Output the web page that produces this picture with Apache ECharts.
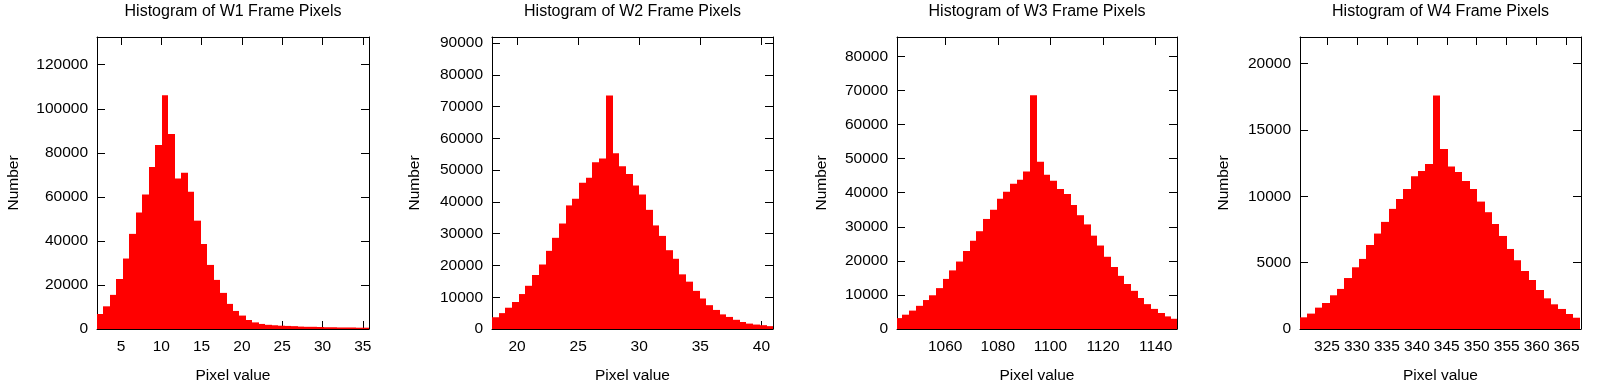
<!DOCTYPE html>
<html><head><meta charset="utf-8">
<script src="https://cdn.jsdelivr.net/npm/echarts@6/dist/echarts.min.js"></script>
<style>html,body{margin:0;padding:0;background:#fff}#c{width:1603px;height:391px}</style>
</head><body><div id="c"></div>
<script>
// ---- data ----
const titles = ['Histogram of W1 Frame Pixels','Histogram of W2 Frame Pixels','Histogram of W3 Frame Pixels','Histogram of W4 Frame Pixels'];
const xName = 'Pixel value';
const yName = 'Number';

const w1Counts = [6800,10300,15500,22700,32000,43200,52900,61100,73600,83600,106100,88600,68300,70900,62300,49200,38600,29100,22300,16400,11400,8200,6100,4100,3000,2300,1900,1700,1500,1400,1300,1100,1000,1000,900,800,800,700,700,700,600,600];
const w2Counts = [3700,5000,6700,8500,11000,13600,17000,20300,24600,28700,33200,38900,41000,46000,47600,52500,53700,73500,55300,51200,48800,45200,42300,37500,32600,29300,24800,22100,17200,14900,12000,9600,7500,6000,4600,3800,2900,2200,1700,1400,1200,900];
const w3Counts = [3200,4200,5400,6800,8500,9900,12000,14700,17200,19800,22900,25900,28700,32300,35000,38200,40300,42600,43800,46200,68600,49100,45300,43500,41100,39600,36400,33400,30700,27400,24500,21200,18200,15600,13200,11200,9100,7300,5900,4700,3700,3000];
const w4Counts = [880,1160,1610,1960,2540,3020,3840,4650,5280,6330,7190,8070,9050,9800,10550,11510,11910,12440,17590,13570,12240,11830,11160,10550,9600,8800,7910,7010,6030,5180,4370,3690,2940,2310,1860,1510,1130,850];

// histogram bin definition (first bin start, bin width) in pixel-value units
const binStarts = [2.02, 17.95, 1041.2, 320.5];
const binWidths = [0.8035, 0.548, 2.555, 1.232];

// axis ranges
const xMins = [2.02, 17.95, 1041.7, 320.5];
const xMaxs = [35.77, 40.95, 1148.1, 367.4];
const yMaxs = [132600, 91900, 85700, 22000];

// tick labels
const xTicks1 = [5,10,15,20,25,30,35];
const xTicks2 = [20,25,30,35,40];
const xTicks3 = [1060,1080,1100,1120,1140];
const xTicks4 = [325,330,335,340,345,350,355,360,365];
const yTicks1 = [0,20000,40000,60000,80000,100000,120000];
const yTicks2 = [0,10000,20000,30000,40000,50000,60000,70000,80000,90000];
const yTicks3 = [0,10000,20000,30000,40000,50000,60000,70000,80000];
const yTicks4 = [0,5000,10000,15000,20000];

// ---- chart ----
const counts = [w1Counts,w2Counts,w3Counts,w4Counts];
const xTicks = [xTicks1,xTicks2,xTicks3,xTicks4];
const yTicks = [yTicks1,yTicks2,yTicks3,yTicks4];
const gridLefts = [97, 492, 897, 1300];
const gridWidths = [272, 281, 280, 281];
const yNameGaps = [75, 69, 67, 68];
const FONT = "'Liberation Sans', Arial, Helvetica, sans-serif";
const FS = 15.5;
const plain = v => String(v);

function renderItem(params, api){
  const x0 = api.value(0), x1 = api.value(1), v = api.value(2);
  const p0 = api.coord([x0, v]);
  const p1 = api.coord([x1, 0]);
  const l = Math.round(p0[0]), r = Math.round(p1[0]);
  const cs = params.coordSys;
  const rect = echarts.graphic.clipRectByRect(
    {x: l, y: p0[1], width: r - l, height: p1[1] - p0[1]},
    {x: cs.x, y: cs.y, width: cs.width, height: cs.height});
  return rect && {type: 'rect', shape: rect, style: {fill: '#ff0000', stroke: null}};
}

const grid = [], xAxis = [], yAxis = [], series = [], title = [];
for (let i = 0; i < 4; i++) {
  grid.push({left: gridLefts[i], top: 37, width: gridWidths[i], height: 292});
  title.push({text: titles[i], left: gridLefts[i] + gridWidths[i]/2, top: 4, textAlign: 'center', padding: 0,
    textStyle: {fontFamily: FONT, fontSize: 16, fontWeight: 'normal', color: '#000'}});
  const lineStyle = {color: '#000', width: 1};
  xAxis.push({type: 'value', gridIndex: i, min: xMins[i], max: xMaxs[i], position: 'bottom',
    name: xName, nameLocation: 'middle', nameGap: 39,
    nameTextStyle: {fontFamily: FONT, fontSize: FS, color: '#000'},
    axisLine: {show: true, onZero: false, lineStyle},
    axisTick: {show: true, inside: true, length: 8, customValues: xTicks[i], lineStyle},
    axisLabel: {show: true, customValues: xTicks[i], formatter: plain, margin: 10, fontFamily: FONT, fontSize: FS, color: '#000'},
    splitLine: {show: false}});
  xAxis.push({type: 'value', gridIndex: i, min: xMins[i], max: xMaxs[i], position: 'top',
    axisLine: {show: true, onZero: false, lineStyle},
    axisTick: {show: true, inside: true, length: 8, customValues: xTicks[i], lineStyle},
    axisLabel: {show: false}, splitLine: {show: false}});
  yAxis.push({type: 'value', gridIndex: i, min: 0, max: yMaxs[i], position: 'left',
    name: yName, nameLocation: 'middle', nameGap: yNameGaps[i], nameRotate: 90,
    nameTextStyle: {fontFamily: FONT, fontSize: FS, color: '#000'},
    axisLine: {show: true, onZero: false, lineStyle},
    axisTick: {show: true, inside: true, length: 8, customValues: yTicks[i], lineStyle},
    axisLabel: {show: true, customValues: yTicks[i], formatter: plain, margin: 9, fontFamily: FONT, fontSize: FS, color: '#000'},
    splitLine: {show: false}});
  yAxis.push({type: 'value', gridIndex: i, min: 0, max: yMaxs[i], position: 'right',
    axisLine: {show: true, onZero: false, lineStyle},
    axisTick: {show: true, inside: true, length: 8, customValues: yTicks[i], lineStyle},
    axisLabel: {show: false}, splitLine: {show: false}});
  const data = counts[i].map((c, k) => [binStarts[i] + k*binWidths[i], binStarts[i] + (k+1)*binWidths[i], c]);
  series.push({type: 'custom', xAxisIndex: 2*i, yAxisIndex: 2*i, renderItem, encode: {x: [0,1], y: 2},
    data, z: 3, silent: true});
}

const chart = echarts.init(document.getElementById('c'), null, {renderer: 'canvas'});
chart.setOption({animation: false, backgroundColor: '#fff', title, grid, xAxis, yAxis, series});
</script>
</body></html>
